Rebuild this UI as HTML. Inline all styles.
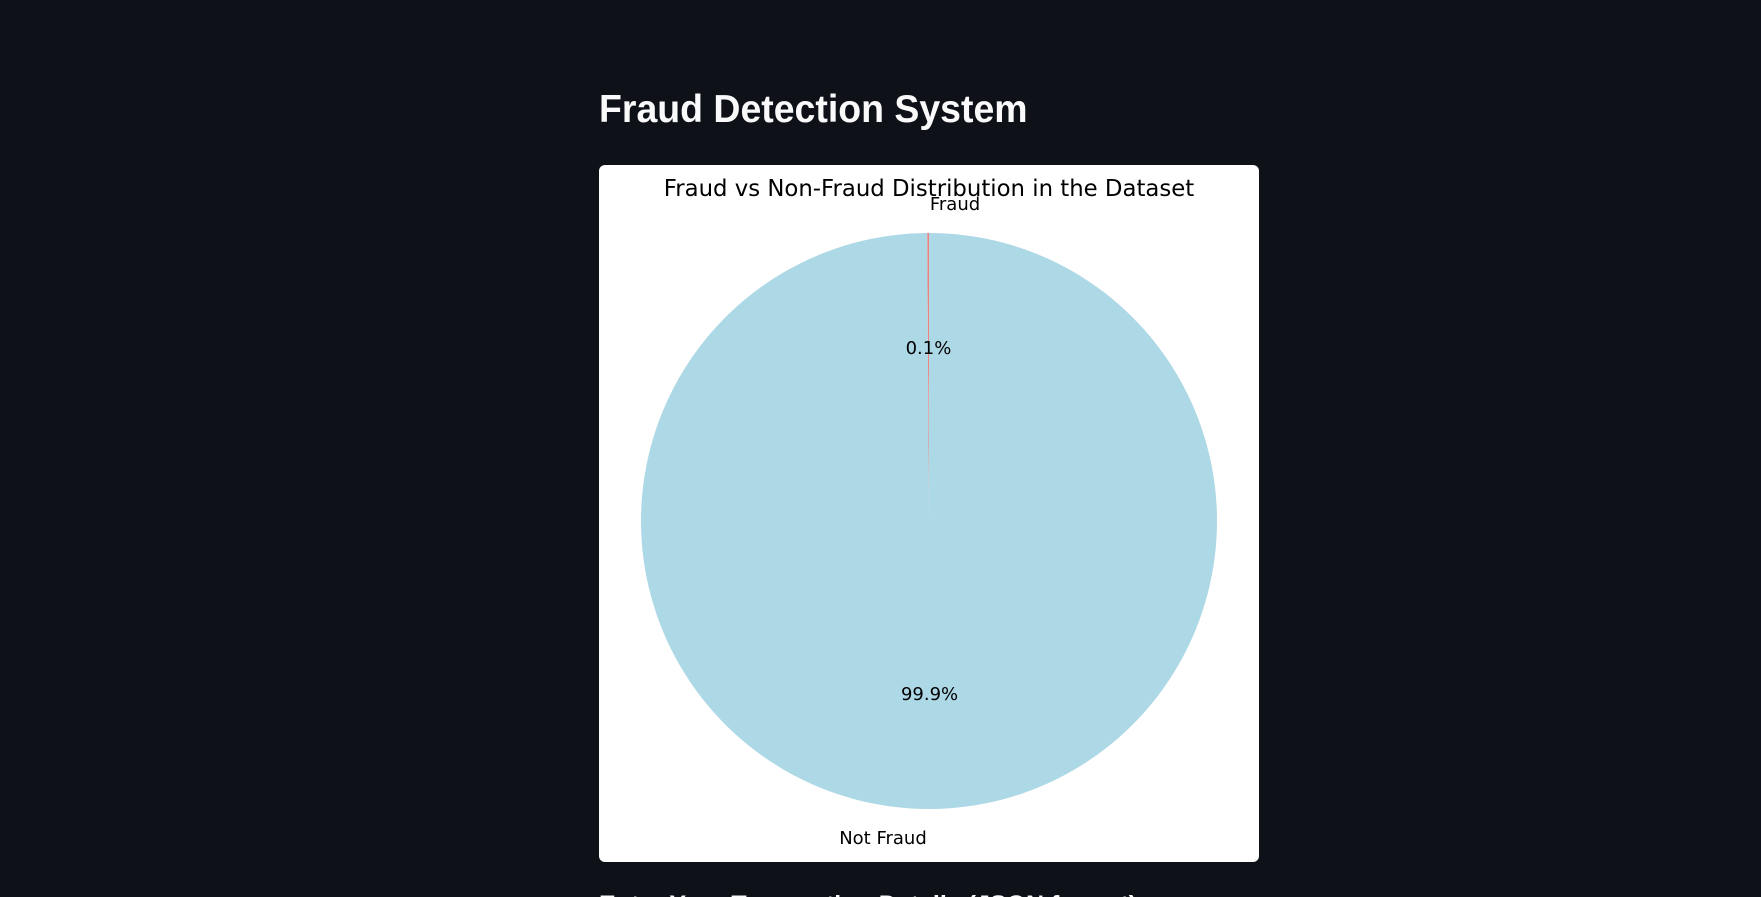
<!DOCTYPE html>
<html><head><meta charset="utf-8"><style>
html,body{margin:0;padding:0;background:#0e1118;width:1761px;height:897px;overflow:hidden;font-family:"Liberation Sans",sans-serif}
#root{position:relative;width:1761px;height:897px;overflow:hidden;background:#0e1118}
#h1{position:absolute;left:599px;top:88px;color:#fafafa;font-weight:bold;font-size:39px;white-space:nowrap;transform-origin:left top;transform:scaleX(0.96)}
#card{position:absolute;left:599px;top:165px;width:660px;height:697px;background:#fff;border-radius:6px}
#h3{position:absolute;left:599px;top:891px;color:#fafafa;font-weight:bold;font-size:25px;white-space:nowrap}
</style></head><body>
<div id="root">
<div id="h1">Fraud Detection System</div>
<div id="card">
<svg id="chart" width="660" height="697"></svg>
</div>
<div id="h3">Enter Your Transaction Details (JSON format)</div>
</div>
<script>
const categories=["Fraud","Not Fraud"];
const values=[0.1,99.9];
const colors=["#f08080","#add8e6"];
const svg=document.getElementById('chart');
const NS='http://www.w3.org/2000/svg';
const cx=330,cy=356,r=288;
const labelShift=[27,-47];
function t(x,y,s,size,name){const e=document.createElementNS(NS,'text');e.setAttribute('x',x);e.setAttribute('y',y);e.setAttribute('text-anchor','middle');e.setAttribute('font-family','DejaVu Sans, sans-serif');e.setAttribute('font-size',size);e.setAttribute('fill','#000');e.textContent=s;


svg.appendChild(e);return e;}
const total=values.reduce((a,b)=>a+b,0);
let ang=90;
const labels=[];
values.forEach((v,i)=>{
 const sweep=v/total*360;const a0=ang*Math.PI/180,a1=(ang+sweep)*Math.PI/180;
 const x0=cx+r*Math.cos(a0),y0=cy-r*Math.sin(a0),x1=cx+r*Math.cos(a1),y1=cy-r*Math.sin(a1);
 const p=document.createElementNS(NS,'path');
 p.setAttribute('d',`M${cx},${cy}L${x0},${y0}A${r},${r} 0 ${sweep>180?1:0} 0 ${x1},${y1}Z`);
 p.setAttribute('fill',colors[i]);
 
 
 svg.appendChild(p);
 const mid=(ang+sweep/2)*Math.PI/180;
 labels.push([i,v,mid]);
 ang+=sweep;
});
labels.forEach(([i,v,mid])=>{
 const lx=cx+1.1*r*Math.cos(mid),ly=cy-1.1*r*Math.sin(mid);
 const px=cx+0.6*r*Math.cos(mid),py=cy-0.6*r*Math.sin(mid);
 const key=categories[i].toLowerCase().replace(' ','-');
 t(lx+labelShift[i],ly+6,categories[i],18,'label-'+key);
 t(px,py+6,v.toFixed(1)+'%',18,'pct-'+key);
});
t(330,31,'Fraud vs Non-Fraud Distribution in the Dataset',22.8,'chart-title');
</script>
</body></html>
